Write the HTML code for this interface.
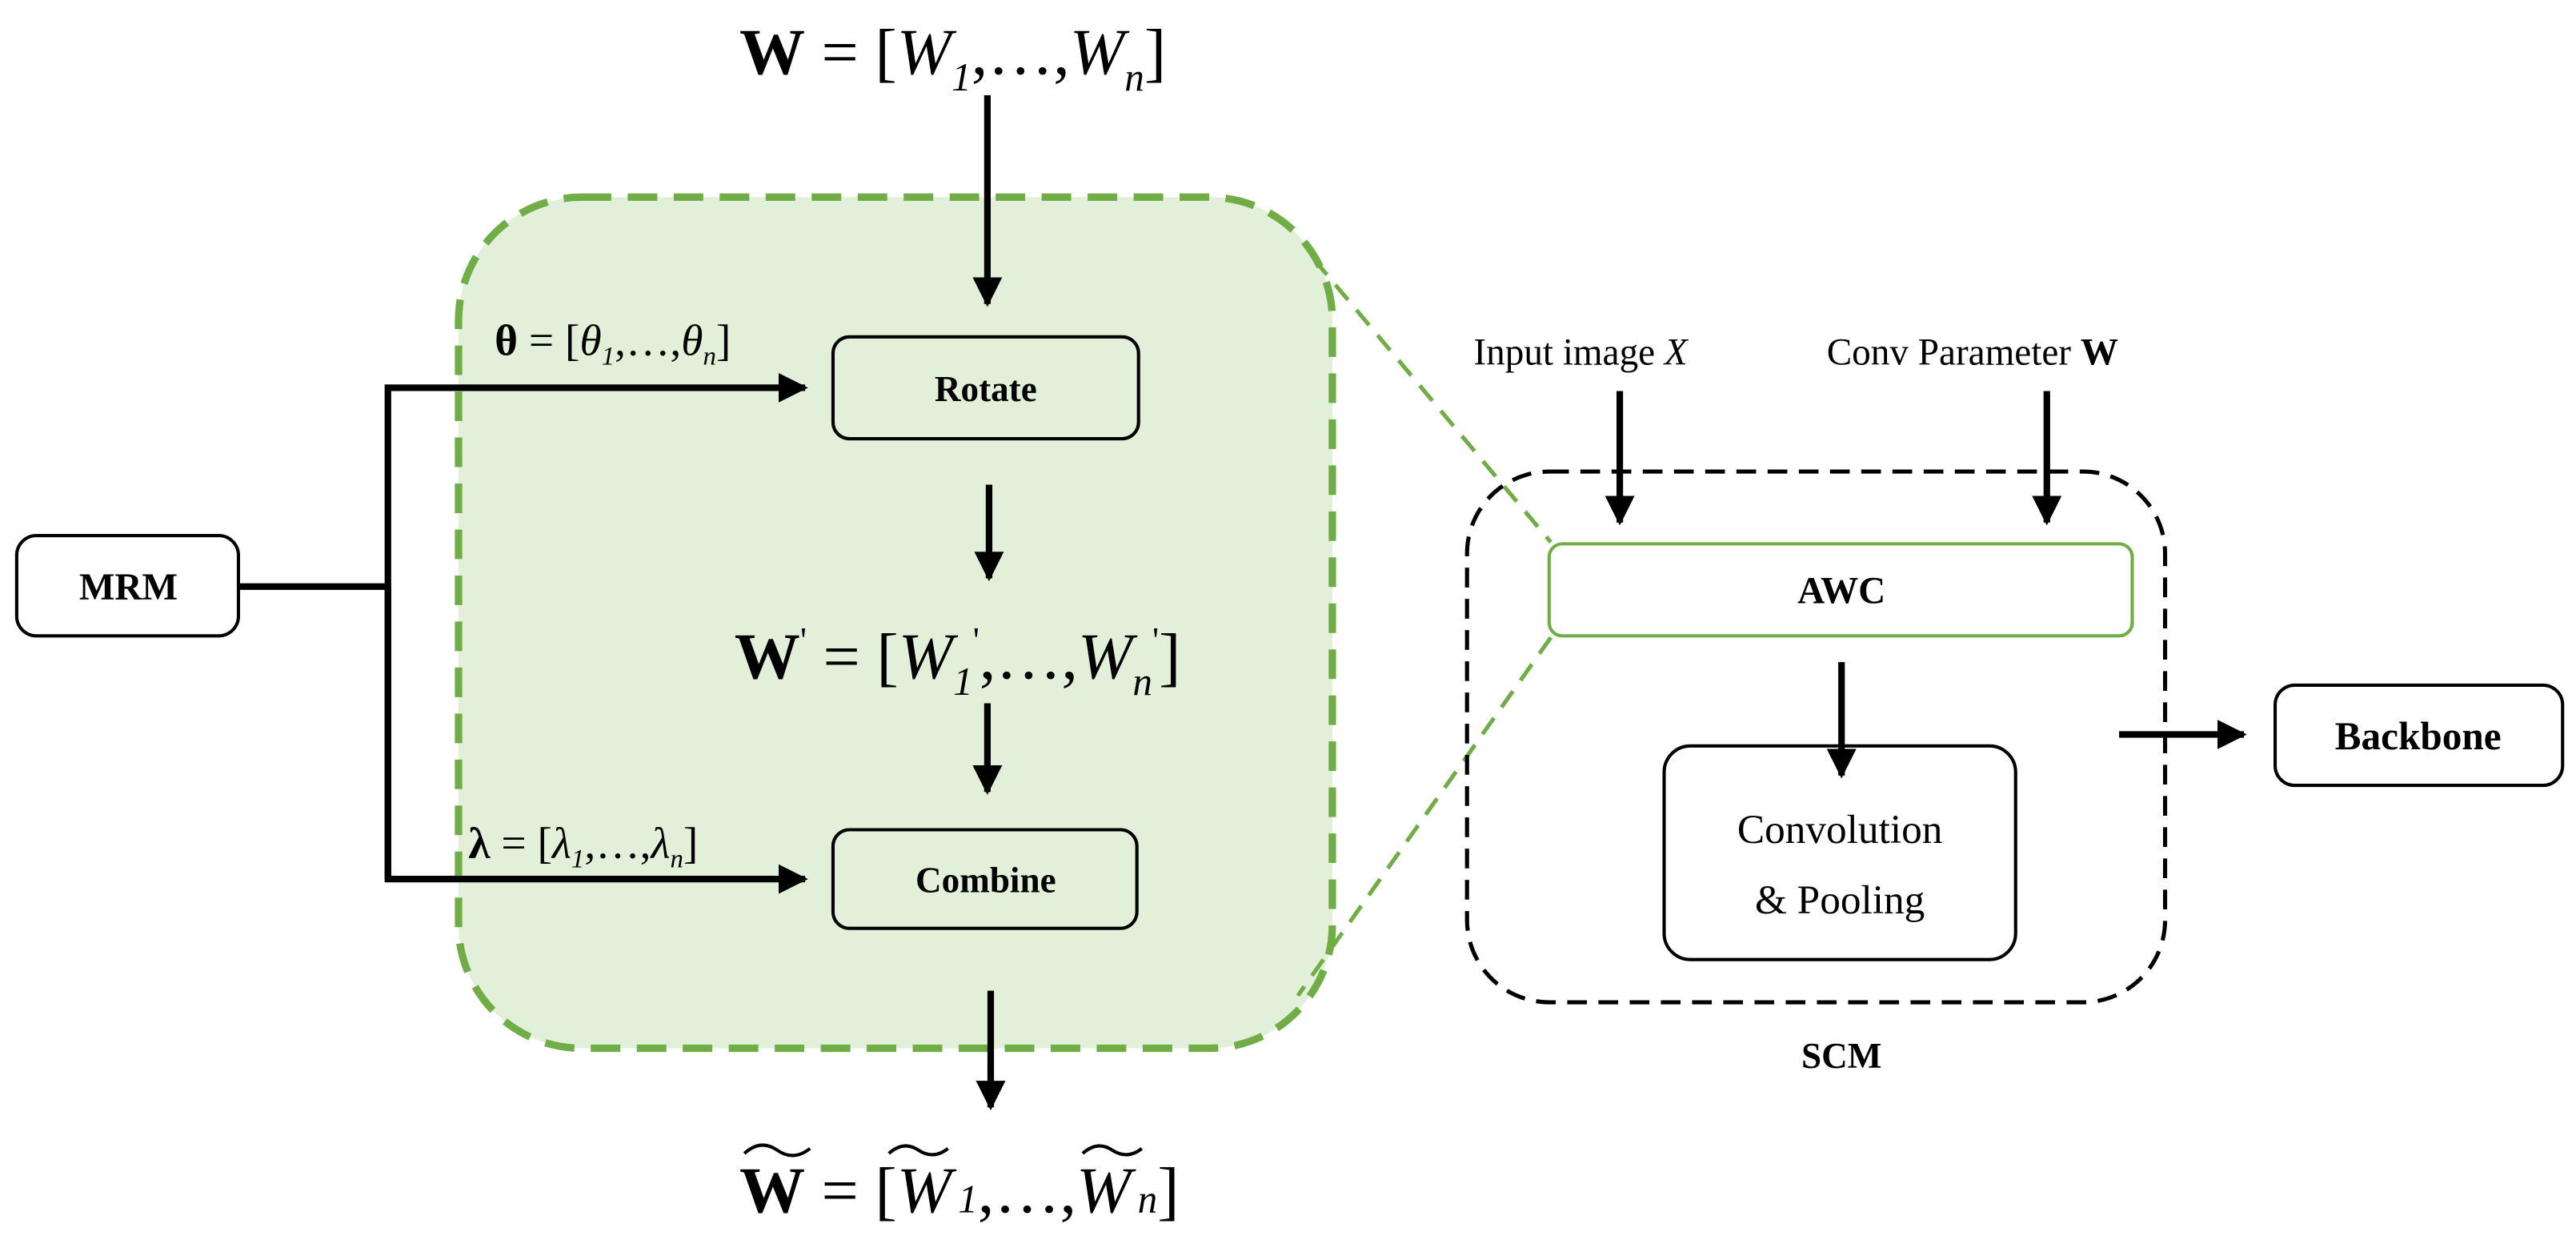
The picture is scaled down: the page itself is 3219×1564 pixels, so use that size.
<!DOCTYPE html>
<html><head><meta charset="utf-8"><style>
html,body{margin:0;padding:0;background:#fff;}
svg{display:block;}
text{font-family:"Liberation Serif",serif;}
</style></head><body>
<svg width="3219" height="1564" viewBox="0 0 1568 762" xmlns="http://www.w3.org/2000/svg">
<defs>
<marker id="ah" viewBox="0 0 10 10" refX="9" refY="5" markerWidth="4.5" markerHeight="4.5" orient="auto" markerUnits="strokeWidth"><path d="M0,0 L10,5 L0,10 z" fill="#000"/></marker>
</defs>
<rect x="279" y="120" width="532" height="518" rx="75" fill="#e2efd9" stroke="#70ad47" stroke-width="4.5" stroke-dasharray="18,10"/>
<line x1="800" y1="158" x2="944" y2="330" stroke="#70ad47" stroke-width="2.5" stroke-dasharray="12,8"/>
<line x1="944" y1="388" x2="790" y2="606" stroke="#70ad47" stroke-width="2.5" stroke-dasharray="12,8"/>
<rect x="893" y="287" width="425" height="323" rx="50" fill="none" stroke="#000" stroke-width="2.5" stroke-dasharray="12,7"/>
<rect x="943" y="331" width="355" height="56" rx="8" fill="#fff" stroke="#70ad47" stroke-width="2"/>
<text x="1121" y="367" font-size="23" font-weight="bold" text-anchor="middle">AWC</text>
<rect x="1013" y="454" width="214" height="130" rx="16" fill="#fff" stroke="#000" stroke-width="2"/>
<text x="1120" y="513" font-size="25" text-anchor="middle">Convolution</text>
<text x="1120" y="556" font-size="25" text-anchor="middle">&amp; Pooling</text>
<text x="1121" y="650" font-size="22" font-weight="bold" text-anchor="middle">SCM</text>
<text x="897" y="222" font-size="23">Input image <tspan font-style="italic">X</tspan></text>
<text x="1112" y="222" font-size="23">Conv Parameter <tspan font-weight="bold">W</tspan></text>
<g stroke="#000" stroke-width="4" fill="none">
<line x1="986" y1="238" x2="986" y2="318" marker-end="url(#ah)"/>
<line x1="1246" y1="238" x2="1246" y2="318" marker-end="url(#ah)"/>
<line x1="1121" y1="403" x2="1121" y2="472" marker-end="url(#ah)"/>
<line x1="1290" y1="447" x2="1366" y2="447" marker-end="url(#ah)"/>
</g>
<rect x="1385" y="417" width="175" height="61" rx="12" fill="#fff" stroke="#000" stroke-width="2"/>
<text x="1472" y="456" font-size="24" font-weight="bold" text-anchor="middle">Backbone</text>
<rect x="10" y="326" width="135" height="61" rx="12" fill="#fff" stroke="#000" stroke-width="2"/>
<text x="78" y="365" font-size="23" font-weight="bold" text-anchor="middle">MRM</text>
<rect x="507" y="205" width="186" height="62" rx="10" fill="#e2efd9" stroke="#000" stroke-width="2"/>
<text x="600" y="244" font-size="22" font-weight="bold" text-anchor="middle">Rotate</text>
<rect x="507" y="505" width="185" height="60" rx="10" fill="#e2efd9" stroke="#000" stroke-width="2"/>
<text x="600" y="543" font-size="22" font-weight="bold" text-anchor="middle">Combine</text>
<g stroke="#000" stroke-width="4" fill="none">
<polyline points="145,357 236,357"/>
<polyline points="236,535 236,236 490,236" marker-end="url(#ah)"/>
<polyline points="236,357 236,535 490,535" marker-end="url(#ah)"/>
<line x1="601" y1="58" x2="601" y2="185" marker-end="url(#ah)"/>
<line x1="602" y1="295" x2="602" y2="352" marker-end="url(#ah)"/>
<line x1="601" y1="428" x2="601" y2="482" marker-end="url(#ah)"/>
<line x1="603" y1="603" x2="603" y2="674" marker-end="url(#ah)"/>
</g>
<text x="450" y="45" font-size="40"><tspan font-weight="bold">W</tspan> = [<tspan font-style="italic">W</tspan><tspan font-style="italic" font-size="24" dy="10">1</tspan><tspan dy="-10">,…,</tspan><tspan font-style="italic">W</tspan><tspan font-style="italic" font-size="24" dy="10">n</tspan><tspan dy="-10">]</tspan></text>
<text x="301" y="216" font-size="27"><tspan font-weight="bold">θ</tspan> = [<tspan font-style="italic">θ</tspan><tspan font-style="italic" font-size="16" dy="6">1</tspan><tspan dy="-6">,…,</tspan><tspan font-style="italic">θ</tspan><tspan font-style="italic" font-size="16" dy="6">n</tspan><tspan dy="-6">]</tspan></text>
<text x="447" y="413" font-size="40"><tspan font-weight="bold">W</tspan><tspan font-size="22" dy="-16">'</tspan><tspan dy="16"> = [</tspan><tspan font-style="italic">W</tspan><tspan font-style="italic" font-size="24" dy="10">1</tspan><tspan font-size="22" dy="-26">'</tspan><tspan dy="16">,…,</tspan><tspan font-style="italic">W</tspan><tspan font-style="italic" font-size="24" dy="10">n</tspan><tspan font-size="22" dy="-26">'</tspan><tspan dy="16">]</tspan></text>
<text x="285" y="522" font-size="27"><tspan font-weight="bold">λ</tspan> = [<tspan font-style="italic">λ</tspan><tspan font-style="italic" font-size="16" dy="6">1</tspan><tspan dy="-6">,…,</tspan><tspan font-style="italic">λ</tspan><tspan font-style="italic" font-size="16" dy="6">n</tspan><tspan dy="-6">]</tspan></text>
<text x="450" y="738" font-size="40"><tspan font-weight="bold">W</tspan> = [<tspan font-style="italic">W</tspan><tspan font-style="italic" font-size="24" dx="4">1</tspan>,…,<tspan font-style="italic">W</tspan><tspan font-style="italic" font-size="24" dx="4">n</tspan>]</text>
<g fill="none" stroke="#000" stroke-width="2">
<path d="M453,702 q10,-9 20,-2 q10,7 20,-1"/>
<path d="M541,702 q9,-8 18,-2 q9,6 18,-1"/>
<path d="M659,702 q9,-8 18,-2 q9,6 18,-1"/>
</g>
</svg>
</body></html>
